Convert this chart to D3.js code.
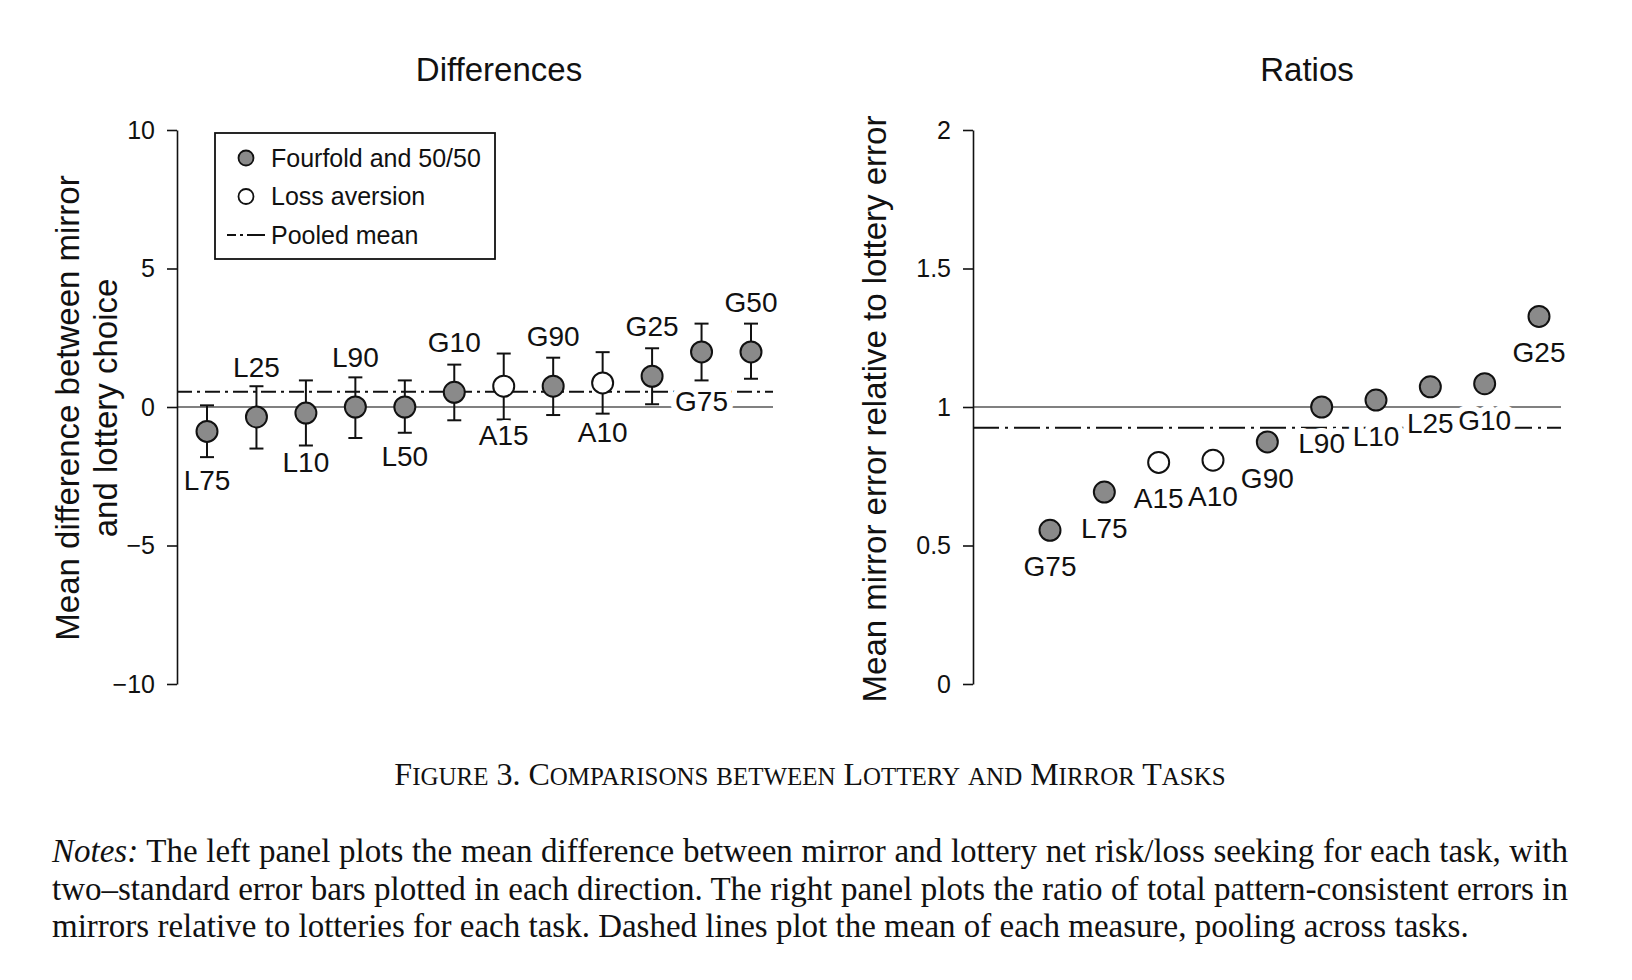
<!DOCTYPE html>
<html>
<head>
<meta charset="utf-8">
<script src="https://cdn.jsdelivr.net/npm/d3@7"></script>
<style>
  body { margin: 0; background: #fff; }
  svg { display: block; }
</style>
</head>
<body>
<div id="chart"></div>
<script>
// values

const diffTasks = ["L75", "L25", "L10", "L90", "L50", "G10", "A15", "G90", "A10", "G25", "G75", "G50"];
const diffMean  = [-0.88, -0.36, -0.22, 0.0, 0.0, 0.53, 0.75, 0.75, 0.87, 1.11, 1.99, 1.99];
const diffLow   = [-1.81, -1.50, -1.39, -1.12, -0.93, -0.48, -0.45, -0.29, -0.24, 0.10, 0.96, 1.02];
const diffHigh  = [0.06, 0.75, 0.96, 1.07, 0.96, 1.53, 1.93, 1.78, 1.98, 2.12, 3.01, 3.01];
const diffSide  = ["below", "above", "below", "above", "below", "above", "below", "above", "below", "above", "below", "above"];
const diffPooled = 0.55;

const ratioTasks  = ["G75", "L75", "A15", "A10", "G90", "L90", "L10", "L25", "G10", "G25"];
const ratioValues = [0.555, 0.693, 0.80, 0.808, 0.874, 1.0, 1.025, 1.073, 1.084, 1.327];
const ratioPooled = 0.925;

const diffTicks  = [-10, -5, 0, 5, 10];
const ratioTicks = [0, 0.5, 1, 1.5, 2];

const legendItems = ["Fourfold and 50/50", "Loss aversion", "Pooled mean"];

const captionText = "Figure 3. Comparisons between Lottery and Mirror Tasks";
const notesLines = [
  "The left panel plots the mean difference between mirror and lottery net risk/loss seeking for each task, with",
  "two\u2013standard error bars plotted in each direction. The right panel plots the ratio of total pattern-consistent errors in",
  "mirrors relative to lotteries for each task. Dashed lines plot the mean of each measure, pooling across tasks."
];

const isLoss = t => t.startsWith("A");

const width = 1632, height = 980;
const sans = "'Liberation Sans', Arial, Helvetica, sans-serif";
const serif = "'Liberation Serif', 'Times New Roman', serif";
const dotFill = "#8a8a8a";

const svg = d3.select("#chart")
  .append("svg")
    .attr("width", width)
    .attr("height", height)
    .attr("font-family", sans);

// shared vertical extent of both panels
const plotTop = 130, plotBottom = 684;

function axis(g, scale, ticks, fmt) {
  g.call(d3.axisLeft(scale).tickValues(ticks)
      .tickFormat(fmt).tickSize(10).tickSizeOuter(0).tickPadding(12))
    .call(g => g.select(".domain").attr("stroke", "#111").attr("stroke-width", 1.6))
    .call(g => g.selectAll(".tick line").attr("stroke", "#111").attr("stroke-width", 1.6))
    .call(g => g.selectAll(".tick text").attr("font-size", 25).attr("font-family", sans).attr("fill", "#111"));
}

function pointLabels(g) {
  g.attr("font-size", 28)
    .attr("text-anchor", "middle")
    .attr("fill", "#111")
    .attr("stroke", "#fff")
    .attr("stroke-width", 12)
    .attr("stroke-linejoin", "round")
    .attr("paint-order", "stroke");
}

// ---------- left panel: differences ----------
const leftAxisX = 177, leftEnd = 773;

const xL = d3.scalePoint()
    .domain(diffTasks)
    .range([207, 751]);

const yL = d3.scaleLinear()
    .domain([-10, 10])
    .range([plotBottom, plotTop]);

const left = svg.append("g");

left.append("text")
    .attr("x", 499)
    .attr("y", 69)
    .attr("dy", "0.35em")
    .attr("text-anchor", "middle")
    .attr("font-size", 33)
    .attr("fill", "#111")
    .text("Differences");

left.append("g")
    .attr("transform", `translate(0,${408})`)
  .selectAll("text")
  .data(["Mean difference between mirror", "and lottery choice"])
  .join("text")
    .attr("transform", (d, i) => `translate(${[67, 105][i]},0) rotate(-90)`)
    .attr("dy", "0.35em")
    .attr("text-anchor", "middle")
    .attr("font-size", 33)
    .attr("fill", "#111")
    .text(d => d);

left.append("line")
    .attr("x1", leftAxisX).attr("x2", leftEnd)
    .attr("y1", yL(0)).attr("y2", yL(0))
    .attr("stroke", "#808080")
    .attr("stroke-width", 2);

left.append("line")
    .attr("x1", leftAxisX).attr("x2", leftEnd)
    .attr("y1", yL(diffPooled)).attr("y2", yL(diffPooled))
    .attr("stroke", "#111")
    .attr("stroke-width", 2)
    .attr("stroke-dasharray", "15,5,3,5");

const diffData = diffTasks.map((t, i) => ({task: t, mean: diffMean[i], lo: diffLow[i], hi: diffHigh[i], side: diffSide[i]}));

const bars = left.append("g")
    .attr("stroke", "#111")
    .attr("stroke-width", 2)
  .selectAll("g")
  .data(diffData)
  .join("g");

bars.append("line")
    .attr("x1", d => xL(d.task)).attr("x2", d => xL(d.task))
    .attr("y1", d => yL(d.lo)).attr("y2", d => yL(d.hi));
bars.append("line")
    .attr("x1", d => xL(d.task) - 7).attr("x2", d => xL(d.task) + 7)
    .attr("y1", d => yL(d.lo)).attr("y2", d => yL(d.lo));
bars.append("line")
    .attr("x1", d => xL(d.task) - 7).attr("x2", d => xL(d.task) + 7)
    .attr("y1", d => yL(d.hi)).attr("y2", d => yL(d.hi));

// labels with white halo, they break the horizontal lines like in the print
left.append("g")
    .call(pointLabels)
  .selectAll("text")
  .data(diffData)
  .join("text")
    .attr("x", d => xL(d.task))
    .attr("y", d => yL(d.mean) + (d.side === "above" ? -50 : 49))
    .attr("dy", "0.35em")
    .text(d => d.task);

left.append("g")
  .selectAll("circle")
  .data(diffData)
  .join("circle")
    .attr("cx", d => xL(d.task))
    .attr("cy", d => yL(d.mean))
    .attr("r", 10.5)
    .attr("fill", d => isLoss(d.task) ? "#fff" : dotFill)
    .attr("stroke", "#111")
    .attr("stroke-width", 2);

left.append("g")
    .attr("transform", `translate(${leftAxisX},0)`)
    .call(g => axis(g, yL, diffTicks, d3.format("d")));

// legend
const legend = left.append("g");
legend.append("rect")
    .attr("x", 215).attr("y", 133)
    .attr("width", 280).attr("height", 126)
    .attr("fill", "#fff")
    .attr("stroke", "#111")
    .attr("stroke-width", 1.8);

const legendY = d3.scalePoint().domain(legendItems).range([158, 235]);

legend.selectAll("text")
  .data(legendItems)
  .join("text")
    .attr("x", 271)
    .attr("y", d => legendY(d))
    .attr("dy", "0.35em")
    .attr("font-size", 25)
    .attr("fill", "#111")
    .text(d => d);

legend.selectAll("circle")
  .data(legendItems.slice(0, 2))
  .join("circle")
    .attr("cx", 246)
    .attr("cy", d => legendY(d))
    .attr("r", 7.5)
    .attr("fill", (d, i) => i === 0 ? dotFill : "#fff")
    .attr("stroke", "#111")
    .attr("stroke-width", 1.8);

legend.append("line")
    .attr("x1", 227).attr("x2", 265)
    .attr("y1", legendY(legendItems[2])).attr("y2", legendY(legendItems[2]))
    .attr("stroke", "#111")
    .attr("stroke-width", 1.8)
    .attr("stroke-dasharray", "9,4,3,4,20");

// ---------- right panel: ratios ----------
const rightAxisX = 973, rightEnd = 1561;

const xR = d3.scalePoint()
    .domain(ratioTasks)
    .range([1050, 1539]);

const yR = d3.scaleLinear()
    .domain([0, 2])
    .range([plotBottom, plotTop]);

const right = svg.append("g");

right.append("text")
    .attr("x", 1307)
    .attr("y", 69)
    .attr("dy", "0.35em")
    .attr("text-anchor", "middle")
    .attr("font-size", 33)
    .attr("fill", "#111")
    .text("Ratios");

right.append("text")
    .attr("transform", `translate(874,409) rotate(-90)`)
    .attr("dy", "0.35em")
    .attr("text-anchor", "middle")
    .attr("font-size", 33)
    .attr("fill", "#111")
    .text("Mean mirror error relative to lottery error");

right.append("line")
    .attr("x1", rightAxisX).attr("x2", rightEnd)
    .attr("y1", yR(1)).attr("y2", yR(1))
    .attr("stroke", "#808080")
    .attr("stroke-width", 2);

right.append("line")
    .attr("x1", rightAxisX).attr("x2", rightEnd)
    .attr("y1", yR(ratioPooled)).attr("y2", yR(ratioPooled))
    .attr("stroke", "#111")
    .attr("stroke-width", 2)
    .attr("stroke-dasharray", "26,6,3,6");

const ratioData = ratioTasks.map((t, i) => ({task: t, value: ratioValues[i]}));

right.append("g")
    .call(pointLabels)
  .selectAll("text")
  .data(ratioData)
  .join("text")
    .attr("x", d => xR(d.task))
    .attr("y", d => yR(d.value) + 36)
    .attr("dy", "0.35em")
    .text(d => d.task);

right.append("g")
  .selectAll("circle")
  .data(ratioData)
  .join("circle")
    .attr("cx", d => xR(d.task))
    .attr("cy", d => yR(d.value))
    .attr("r", 10.5)
    .attr("fill", d => isLoss(d.task) ? "#fff" : dotFill)
    .attr("stroke", "#111")
    .attr("stroke-width", 2);

right.append("g")
    .attr("transform", `translate(${rightAxisX},0)`)
    .call(g => axis(g, yR, ratioTicks, d => Number.isInteger(d) ? d3.format("d")(d) : d3.format(".1f")(d)));

// ---------- caption and notes ----------
// small caps done by hand: lowercase letters become smaller capitals
const capSize = 32;
const caption = svg.append("text")
    .attr("x", 810)
    .attr("y", 785)
    .attr("text-anchor", "middle")
    .attr("font-family", serif)
    .attr("font-size", capSize)
    .attr("fill", "#111");

const capRuns = captionText.match(/[a-z]+|[^a-z]+/g);
caption.selectAll("tspan")
  .data(capRuns)
  .join("tspan")
    .attr("font-size", d => /[a-z]/.test(d) ? capSize * 0.78 : capSize)
    .text(d => d.toUpperCase());

const notes = svg.append("g")
    .attr("font-family", serif)
    .attr("font-size", 33)
    .attr("fill", "#111");

const lineWidth = 1516;
notesLines.forEach((line, i) => {
  const t = notes.append("text")
      .attr("x", 52)
      .attr("y", 862 + i * 37.5)
      .style("white-space", "pre");
  if (i === 0) {
    t.append("tspan").attr("font-style", "italic").text("Notes:");
    t.append("tspan").text(" " + line);
  } else {
    t.text(line);
  }
  // justify the first two lines by widening the word gaps
  if (i < 2) {
    const spaces = (i === 0 ? line.split(" ").length : line.split(" ").length - 1);
    const extra = (lineWidth - t.node().getComputedTextLength()) / spaces;
    t.attr("word-spacing", extra);
  }
});
</script>
</body>
</html>
